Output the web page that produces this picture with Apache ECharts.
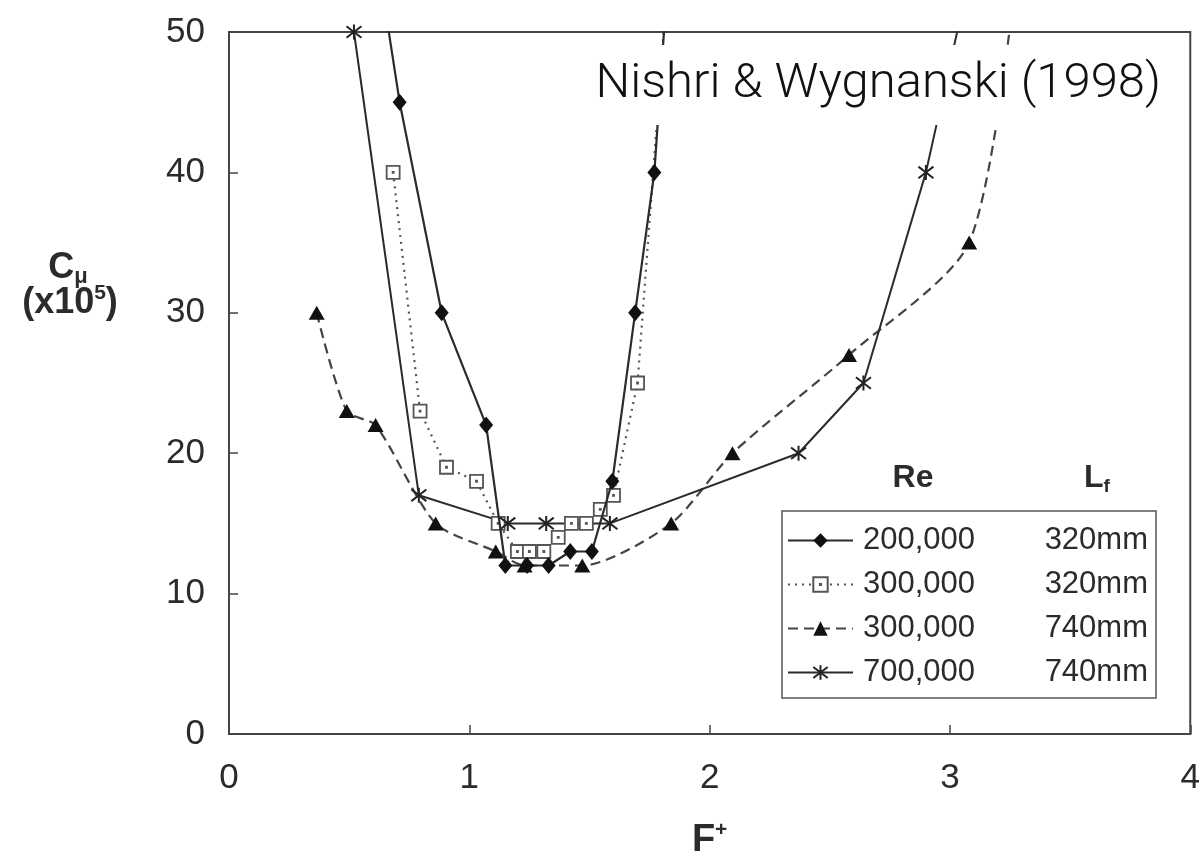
<!DOCTYPE html>
<html>
<head>
<meta charset="utf-8">
<title>C_mu vs F+</title>
<script src="https://cdn.jsdelivr.net/npm/echarts@6/dist/echarts.min.js"></script>
<style>
html,body{margin:0;padding:0;background:#fff;}
#main{width:1203px;height:865px;}
</style>
</head>
<body>
<div id="main"></div>
<script>
// values, F+ vs C_mu (x10^5)
// last/first points above 50 only carry the lines out of the top of the frame
var reLabels = ['200,000', '300,000', '300,000', '700,000'];
var lfLabels = ['320mm', '320mm', '740mm', '740mm'];

// Re 200,000 / Lf 320mm
var fA = [0.62, 0.71, 0.885, 1.07, 1.15, 1.24, 1.33, 1.42, 1.51, 1.595, 1.69, 1.77, 1.83];
var cA = [55, 45, 30, 22, 12, 12, 12, 13, 13, 18, 30, 40, 55];

// Re 300,000 / Lf 320mm
var fB = [0.683, 0.795, 0.905, 1.03, 1.12, 1.20, 1.25, 1.31, 1.37, 1.425, 1.487, 1.545, 1.60, 1.70, 1.83];
var cB = [40, 23, 19, 18, 15, 13, 13, 13, 14, 15, 15, 16, 17, 25, 55];

// Re 300,000 / Lf 740mm
var fC = [0.365, 0.49, 0.61, 0.86, 1.11, 1.23, 1.47, 1.84, 2.095, 2.58, 3.08, 3.28];
var cC = [30, 23, 22, 15, 13, 12, 12, 15, 20, 27, 35, 55];

// Re 700,000 / Lf 740mm
var fD = [0.52, 0.79, 1.16, 1.32, 1.585, 2.37, 2.64, 2.90, 3.095];
var cD = [50, 17, 15, 15, 15, 20, 25, 40, 55];

var xTicks = [0, 1, 2, 3, 4];
var yTicks = [0, 10, 20, 30, 40, 50];

function pairs(f, c){
	var out = [];
	for (var i = 0; i < f.length; i++) out.push([f[i], c[i]]);
	return out;
}

var ink = '#2b2b2b';
var font = '"Liberation Sans", Arial, sans-serif';
var starPath = 'path://M0,0L10,10M10,0L0,10M5,-1.5L5,11.5';
var boxPath = 'path://M0,0H10V10H0Z M4.6,4.6H5.4V5.4H4.6Z';

var names = [];
for (var i = 0; i < reLabels.length; i++) names.push(reLabels[i] + '|' + lfLabels[i]);

var chart = echarts.init(document.getElementById('main'));

chart.setOption({
	animation: false,
	backgroundColor: '#fff',
	title: {
		text: 'Nishri & Wygnanski (1998)',
		right: 30,
		top: 45,
		backgroundColor: '#fff',
		padding: [11, 12, 11, 16],
		textStyle: {
			fontFamily: 'Roboto, "Liberation Sans", sans-serif',
			fontWeight: 300,
			fontSize: 49,
			lineHeight: 58,
			color: '#111'
		},
		z: 10
	},
	grid: {
		left: 229,
		right: 7,
		top: 32,
		bottom: 130,
		show: true,
		borderColor: '#444',
		borderWidth: 2
	},
	legend: {
		orient: 'vertical',
		left: 782,
		top: 511,
		data: names,
		selectedMode: false,
		backgroundColor: '#fff',
		borderColor: '#555',
		borderWidth: 1.5,
		padding: [14, 8, 10, 5],
		itemGap: 13,
		itemWidth: 65,
		itemHeight: 18,
		formatter: function(name){
			var p = name.split('|');
			return '{a|' + p[0] + '}{b|' + p[1] + '}';
		},
		textStyle: {
			rich: {
				a: { fontFamily: font, fontSize: 31, lineHeight: 34, color: ink, width: 110, padding: [0, 0, 0, 5] },
				b: { fontFamily: font, fontSize: 31, lineHeight: 34, color: ink, width: 175, align: 'right' }
			}
		}
	},
	graphic: [
		{
			type: 'text', x: 68, y: 268,
			style: {
				text: '{m|C}{s|μ}',
				textAlign: 'center', textVerticalAlign: 'middle',
				rich: {
					m: { fontFamily: font, fontWeight: 'bold', fontSize: 36, lineHeight: 40, fill: ink },
					s: { fontFamily: font, fontWeight: 'bold', fontSize: 22, lineHeight: 22, fill: ink, verticalAlign: 'bottom' }
				}
			}
		},
		{
			type: 'text', x: 70, y: 303,
			style: {
				text: '{m|(x10}{p|5}{m|)}',
				textAlign: 'center', textVerticalAlign: 'middle',
				rich: {
					m: { fontFamily: font, fontWeight: 'bold', fontSize: 36, lineHeight: 40, fill: ink },
					p: { fontFamily: font, fontWeight: 'bold', fontSize: 21, lineHeight: 21, fill: ink, verticalAlign: 'top' }
				}
			}
		},
		{
			type: 'text', x: 913, y: 478,
			style: {
				text: 'Re', textAlign: 'center', textVerticalAlign: 'middle',
				font: 'bold 32px "Liberation Sans", Arial', fill: ink
			}
		},
		{
			type: 'text', x: 1097, y: 478,
			style: {
				text: '{m|L}{s|f}',
				textAlign: 'center', textVerticalAlign: 'middle',
				rich: {
					m: { fontFamily: font, fontWeight: 'bold', fontSize: 32, lineHeight: 36, fill: ink },
					s: { fontFamily: font, fontWeight: 'bold', fontSize: 19, lineHeight: 19, fill: ink, verticalAlign: 'bottom' }
				}
			}
		}
	],
	xAxis: {
		type: 'value',
		min: xTicks[0],
		max: xTicks[xTicks.length - 1],
		interval: 1,
		name: '{m|F}{p|+}',
		nameLocation: 'middle',
		nameGap: 86,
		nameTextStyle: {
			rich: {
				m: { fontFamily: font, fontWeight: 'bold', fontSize: 38, lineHeight: 42, color: ink },
				p: { fontFamily: font, fontWeight: 'bold', fontSize: 21, lineHeight: 21, color: ink, verticalAlign: 'top' }
			}
		},
		splitLine: { show: false },
		axisLine: { show: true, lineStyle: { color: '#444', width: 2 } },
		axisTick: { show: true, inside: true, length: 9, lineStyle: { color: '#444', width: 1.5 } },
		axisLabel: {
			margin: 27,
			fontFamily: font,
			fontSize: 35,
			color: ink
		}
	},
	yAxis: {
		type: 'value',
		min: yTicks[0],
		max: yTicks[yTicks.length - 1],
		interval: 10,
		splitLine: { show: false },
		axisLine: { show: true, lineStyle: { color: '#444', width: 2 } },
		axisTick: { show: true, inside: true, length: 9, lineStyle: { color: '#444', width: 1.5 } },
		axisLabel: {
			margin: 24,
			fontFamily: font,
			fontSize: 35,
			color: ink
		}
	},
	series: [
		{
			name: names[0],
			type: 'line',
			data: pairs(fA, cA),
			symbol: 'diamond',
			symbolSize: [14, 17],
			itemStyle: { color: '#111' },
			lineStyle: { color: ink, width: 2.2, type: 'solid' },
			z: 5
		},
		{
			name: names[1],
			type: 'line',
			data: pairs(fB, cB),
			symbol: boxPath,
			symbolSize: 13,
			itemStyle: { color: '#fff', borderColor: '#555', borderWidth: 1.8 },
			lineStyle: { color: '#555', width: 2.2, type: [2, 5] },
			z: 4
		},
		{
			name: names[2],
			type: 'line',
			data: pairs(fC, cC),
			smooth: 0.25,
			symbol: 'triangle',
			symbolSize: [16, 14],
			itemStyle: { color: '#111' },
			lineStyle: { color: '#444', width: 2.2, type: [10, 6] },
			z: 3
		},
		{
			name: names[3],
			type: 'line',
			data: pairs(fD, cD),
			symbol: starPath,
			symbolSize: 15,
			itemStyle: { color: 'transparent', borderColor: '#222', borderWidth: 2 },
			lineStyle: { color: ink, width: 2, type: 'solid' },
			z: 4
		}
	]
});
</script>
</body>
</html>
